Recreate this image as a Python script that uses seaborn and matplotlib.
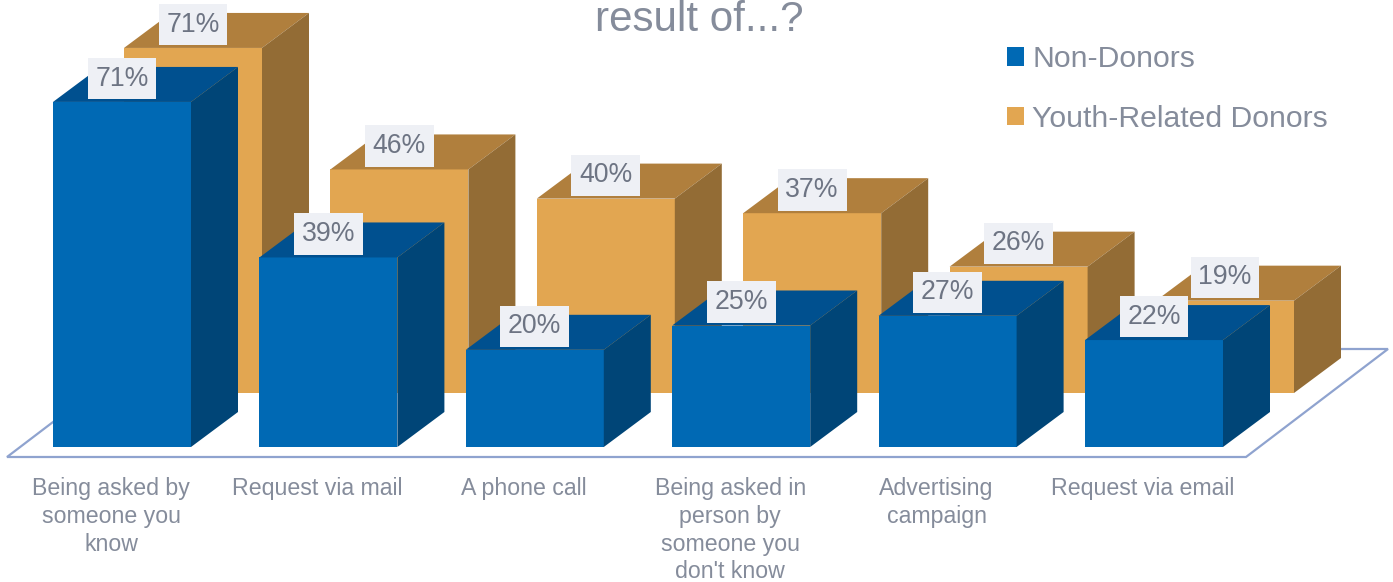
import pandas as pd
import matplotlib
matplotlib.use('Agg')
import matplotlib.pyplot as plt
import matplotlib.transforms as mtrans
from matplotlib.patches import Polygon
import seaborn as sns

# valeurs
categories = ['Being asked by\nsomeone you\nknow', 'Request via mail', 'A phone call',
              'Being asked in\nperson by\nsomeone you\ndon\'t know', 'Advertising\ncampaign', 'Request via email']
non_donors = [71, 39, 20, 25, 27, 22]
youth_donors = [71, 46, 40, 37, 26, 19]

W, H = 1393, 582
PAS = 206.4      # px entre deux categories
PX_PCT = 4.86    # px pour 1 %
LARGEUR = 138 / PAS
YMAX = 75

sns.set_theme(style='white')
plt.rcParams['font.family'] = ['Liberation Sans', 'DejaVu Sans']
GRIS = '#858c9b'

fig = plt.figure(figsize=(W / 100, H / 100), dpi=100, facecolor='white')


def axes_px(centre0, base):
    # axes placees en pixels : centre de la 1ere barre, ligne de base
    gauche = centre0 - PAS / 2
    haut = YMAX * PX_PCT
    ax = fig.add_axes([gauche / W, 1 - base / H, 6 * PAS / W, haut / H])
    ax.patch.set_visible(False)
    return ax


def barres_3d(ax, valeurs, serie, front, dessus, cote):
    df = pd.DataFrame({'categorie': categories, 'valeur': valeurs})
    sns.barplot(data=df, x='categorie', y='valeur', ax=ax, color=front, saturation=1,
                width=LARGEUR, linewidth=0, legend=False)
    ax.set_xlim(-0.5, 5.5)
    ax.set_ylim(0, YMAX)
    ax.set_xlabel('')
    ax.set_ylabel('')
    ax.set_yticks([])
    sns.despine(ax=ax, left=True, bottom=True)
    # faces du dessus et de cote a partir des barres
    dx = 47 / PAS
    dy = 35 / PX_PCT
    for p in ax.containers[0]:
        x, w, h = p.get_x(), p.get_width(), p.get_height()
        ax.add_patch(Polygon([(x, h), (x + w, h), (x + w + dx, h + dy), (x + dx, h + dy)],
                             facecolor=dessus, linewidth=0, clip_on=False))
        ax.add_patch(Polygon([(x + w, 0), (x + w + dx, dy), (x + w + dx, h + dy), (x + w, h)],
                             facecolor=cote, linewidth=0, clip_on=False))
    textes = ax.bar_label(ax.containers[0], fmt='%d%%', padding=16.8, fontsize=19.2, color='#6d7483',
                          zorder=5, bbox=dict(boxstyle='square,pad=0.29', facecolor='#eef0f5', edgecolor='none'))
    for t in textes:
        t.set_va('center')


# plancher
coins = [(7, 457), (1246, 457), (1388, 349), (149, 349)]
fig.add_artist(Polygon([(x / W, 1 - y / H) for x, y in coins], closed=True, facecolor='white',
                       edgecolor='#8fa3cf', linewidth=1.6, transform=fig.transFigure, zorder=-1))

ax_fond = axes_px(193, 393)
barres_3d(ax_fond, youth_donors, 'Youth-Related Donors', '#e2a651', '#b07f3d', '#936c35')
ax_fond.set_xticks([])

ax_devant = axes_px(122, 447)
barres_3d(ax_devant, non_donors, 'Non-Donors', '#0069b4', '#00508f', '#004577')
ax_devant.set_xticks(range(6))
ax_devant.set_xticklabels(categories, fontsize=16.7, color=GRIS, linespacing=1.27)
ax_devant.tick_params(axis='x', length=0, pad=21.5)
decalage = mtrans.ScaledTranslation(-11 / 100, 0, fig.dpi_scale_trans)
for lab in ax_devant.get_xticklabels():
    lab.set_transform(lab.get_transform() + decalage)

fig.text(699 / W, 1 - 31 / H, 'result of...?', fontsize=30.3, color=GRIS, ha='center', va='baseline')

fig.legend(handles=[ax_devant.containers[0], ax_fond.containers[0]],
           labels=['Non-Donors', 'Youth-Related Donors'],
           loc='upper left', bbox_to_anchor=(1007 / W, 1 - 45 / H), frameon=False, fontsize=21.7,
           labelcolor=GRIS, handlelength=0.56, handleheight=0.56, handletextpad=0.27,
           labelspacing=1.05, borderpad=0, borderaxespad=0)

fig.savefig('out.png', dpi=100)
